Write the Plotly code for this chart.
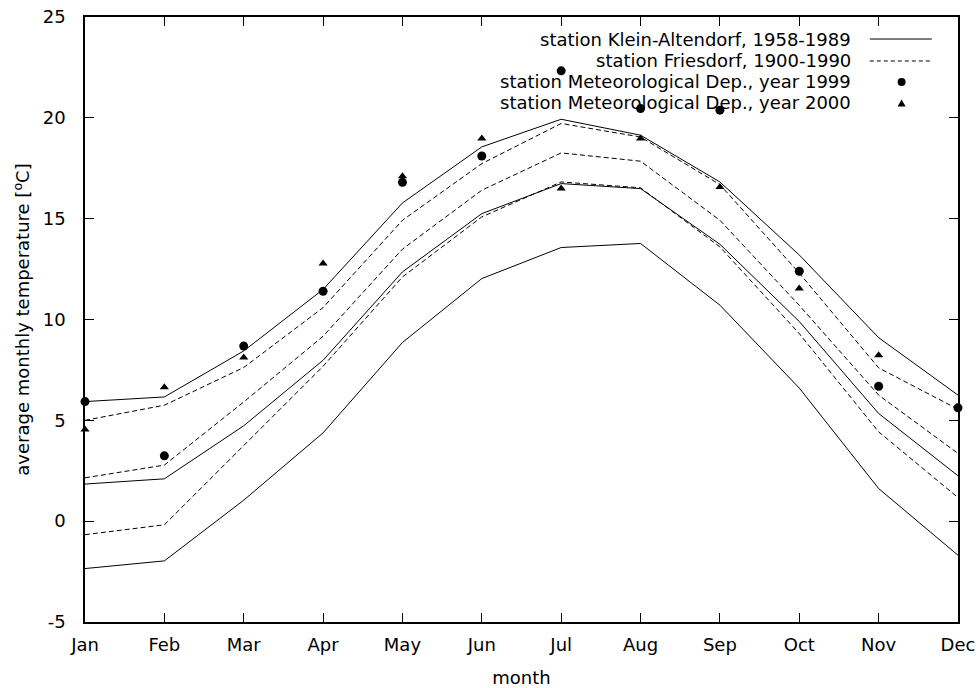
import plotly.graph_objects as go

months = ["Jan", "Feb", "Mar", "Apr", "May", "Jun", "Jul", "Aug", "Sep", "Oct", "Nov", "Dec"]
month_num = list(range(1, 13))
y_ticks = [-5, 0, 5, 10, 15, 20, 25]
y_tick_labels = ["-5", "0", "5", "10", "15", "20", "25"]

ka_upper = [5.93, 6.16, 8.44, 11.49, 15.78, 18.56, 19.93, 19.14, 16.82, 13.2, 9.1, 6.25]
ka_mid = [1.84, 2.10, 4.73, 7.98, 12.36, 15.25, 16.74, 16.49, 13.73, 9.9, 5.34, 2.25]
ka_lower = [-2.35, -1.97, 1.04, 4.38, 8.86, 12.03, 13.57, 13.77, 10.71, 6.6, 1.62, -1.69]

fr_upper = [5.0, 5.75, 7.62, 10.59, 14.92, 17.73, 19.72, 19.05, 16.69, 12.3, 7.6, 5.55]
fr_mid = [2.15, 2.78, 5.91, 9.17, 13.49, 16.41, 18.26, 17.85, 14.92, 10.7, 6.25, 3.36]
fr_lower = [-0.67, -0.18, 3.75, 7.68, 12.11, 15.09, 16.82, 16.53, 13.6, 9.3, 4.43, 1.17]

md_1999 = [5.93, 3.24, 8.68, 11.40, 16.8, 18.11, 22.33, 20.46, 20.38, 12.39, 6.69, 5.62]
md_2000 = [4.55, 6.64, 8.11, 12.78, 17.1, 18.97, 16.49, 18.97, 16.57, 11.54, 8.23, None]

legend_labels = [
    "station Klein-Altendorf, 1958-1989",
    "station Friesdorf, 1900-1990",
    "station Meteorological Dep., year 1999",
    "station Meteorological Dep., year 2000",
]

FONT = "DejaVu Sans, Liberation Sans, Arial, sans-serif"
FS = 18
DASH = "5px,3px"

fig = go.Figure()
for ys in (ka_upper, ka_mid, ka_lower):
    fig.add_trace(go.Scatter(x=month_num, y=ys, mode="lines",
                             line=dict(color="black", width=1), showlegend=False))
for ys in (fr_upper, fr_mid, fr_lower):
    fig.add_trace(go.Scatter(x=month_num, y=ys, mode="lines",
                             line=dict(color="black", width=1, dash=DASH), showlegend=False))
fig.add_trace(go.Scatter(x=month_num, y=md_1999, mode="markers",
                         marker=dict(symbol="circle", size=9, color="black"), showlegend=False,
                         cliponaxis=False))
fig.add_trace(go.Scatter(x=month_num, y=md_2000, mode="markers",
                         marker=dict(symbol="triangle-up", size=8, color="black"), showlegend=False,
                         cliponaxis=False))

# custom gnuplot-style legend (text right-aligned, sample on the right)
row_y = [0.9636, 0.9273, 0.8926, 0.8579]
text_x = 0.8797
for lbl, ry in zip(legend_labels, row_y):
    fig.add_annotation(xref="paper", yref="paper", x=text_x, y=ry, text=lbl,
                       showarrow=False, xanchor="right", yanchor="middle",
                       font=dict(family=FONT, size=FS, color="black"))
fig.add_shape(type="line", xref="paper", yref="paper", x0=0.899, x1=0.970,
              y0=row_y[0], y1=row_y[0], line=dict(color="black", width=1))
fig.add_shape(type="line", xref="paper", yref="paper", x0=0.899, x1=0.970,
              y0=row_y[1], y1=row_y[1], line=dict(color="black", width=1, dash="4px,3px"))
sample_x = 0.9354
fig.add_shape(type="circle", xref="paper", yref="paper", xsizemode="pixel", ysizemode="pixel",
              xanchor=sample_x, yanchor=row_y[2], x0=-4, x1=4, y0=-4, y1=4,
              fillcolor="black", line=dict(color="black", width=0))
fig.add_shape(type="path", xref="paper", yref="paper", xsizemode="pixel", ysizemode="pixel",
              xanchor=sample_x, yanchor=row_y[3], path="M -4,-3.5 L 4,-3.5 L 0,3.5 Z",
              fillcolor="black", line=dict(color="black", width=0))

axis_common = dict(showgrid=False, zeroline=False, showline=True, linecolor="black",
                   linewidth=1.5, mirror="ticks", ticks="inside", ticklen=9,
                   tickcolor="black", tickwidth=1, automargin=False,
                   tickfont=dict(family=FONT, size=FS, color="black"))

fig.update_xaxes(range=[1, 12], tickvals=month_num, ticktext=months, ticklabelstandoff=6,
                 title=dict(text="month", font=dict(family=FONT, size=FS, color="black"), standoff=18),
                 **axis_common)
fig.update_yaxes(range=[-5, 25], tickvals=y_ticks, ticktext=y_tick_labels, ticklabelstandoff=14,
                 title=dict(text="average monthly temperature [<sup>o</sup>C]",
                            font=dict(family=FONT, size=FS, color="black"), standoff=8),
                 **axis_common)

fig.update_layout(width=980, height=688, plot_bgcolor="white", paper_bgcolor="white",
                  margin=dict(l=85, r=22, t=17, b=66), showlegend=False)

fig.write_html("out.html", config={"displayModeBar": False},
               post_script="document.body.style.margin='0';document.body.style.overflow='hidden';")
